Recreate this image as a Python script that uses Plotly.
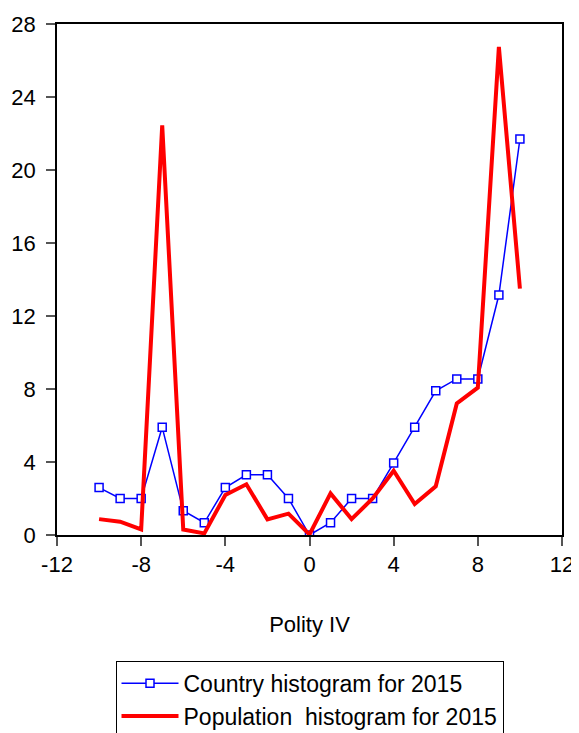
import plotly.graph_objects as go

polity = list(range(-10, 11))
country = [2.6, 2.0, 2.0, 5.9, 1.33, 0.67, 2.6, 3.3, 3.3, 2.0, 0.0,
           0.67, 2.0, 2.0, 3.95, 5.9, 7.9, 8.55, 8.55, 13.15, 21.7]
population = [0.87, 0.73, 0.31, 22.45, 0.3, 0.09, 2.19, 2.78, 0.86, 1.17, 0.03,
              2.28, 0.87, 2.0, 3.52, 1.7, 2.67, 7.21, 8.07, 26.75, 13.5]
x_ticks = [-12, -8, -4, 0, 4, 8, 12]
y_ticks = [0, 4, 8, 12, 16, 20, 24, 28]

FONT = "Liberation Sans, Arial, sans-serif"

fig = go.Figure()
fig.add_trace(go.Scatter(
    x=polity, y=country, mode="lines+markers",
    name="Country histogram for 2015",
    line=dict(color="#0000ff", width=1.5),
    marker=dict(symbol="square", size=8, color="white",
                line=dict(color="#0000ff", width=1.5)),
))
fig.add_trace(go.Scatter(
    x=polity, y=population, mode="lines",
    name="Population  histogram for 2015",
    line=dict(color="#ff0000", width=4),
))

# page body has an 8px default margin, so the figure is offset by 8px
fig.update_layout(
    width=571, height=725,
    margin=dict(l=49, r=17, t=16, b=198, autoexpand=False),
    paper_bgcolor="white", plot_bgcolor="white",
    font=dict(family=FONT, size=22, color="black"),
    showlegend=True,
    legend=dict(
        x=0.5, xanchor="center", y=-0.246, yanchor="top",
        bordercolor="black", borderwidth=1,
        font=dict(family=FONT, size=23, color="black"),
        itemwidth=57, tracegroupgap=0,
        bgcolor="white",
    ),
    xaxis=dict(
        range=[-12, 12], tickvals=x_ticks, ticktext=[str(v) for v in x_ticks],
        showgrid=False, zeroline=False,
        showline=True, linecolor="black", linewidth=1.5, mirror=True,
        ticks="outside", ticklen=9, tickcolor="#555555", tickwidth=1.5,
        tickfont=dict(family=FONT, size=22),
        title=dict(text="Polity IV", font=dict(family=FONT, size=22), standoff=40),
        automargin=False,
    ),
    yaxis=dict(
        range=[0, 28], tickvals=y_ticks, ticktext=[str(v) for v in y_ticks],
        showgrid=False, zeroline=False,
        showline=True, linecolor="black", linewidth=1.5, mirror=True,
        ticks="outside", ticklen=9, tickcolor="#555555", tickwidth=1.5,
        tickfont=dict(family=FONT, size=22),
        ticklabelstandoff=6,
        automargin=False,
    ),
)

fig.write_html("out.html")
